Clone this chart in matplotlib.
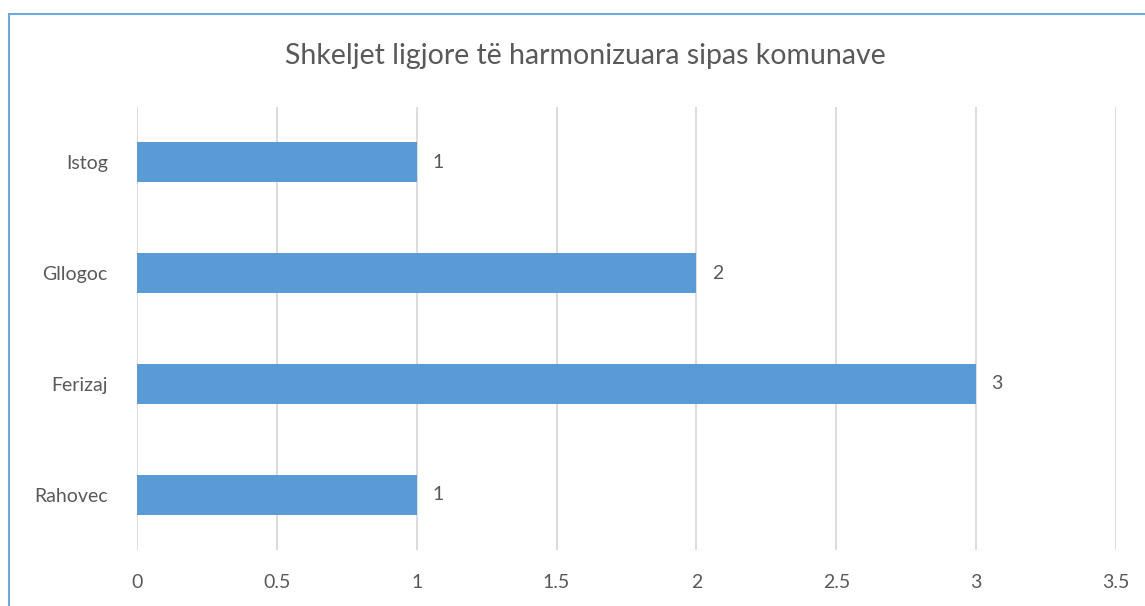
import matplotlib.pyplot as plt
from matplotlib.patches import Rectangle

categories = ['Rahovec', 'Ferizaj', 'Gllogoc', 'Istog']
values = [1, 3, 2, 1]
xticks = [0, 0.5, 1, 1.5, 2, 2.5, 3, 3.5]
xticklabels = ['0', '0.5', '1', '1.5', '2', '2.5', '3', '3.5']
title = 'Shkeljet ligjore të harmonizuara sipas komunave'

plt.rcParams['font.family'] = ['Lato', 'DejaVu Sans']
text_color = '#595959'
bar_color = '#5B9BD5'

fig = plt.figure(figsize=(11.45, 6.06), dpi=100)
ax = fig.add_axes([137 / 1145, 1 - 550 / 606, (1116 - 137) / 1145, (550 - 107) / 606])

ypos = range(len(categories))
bars = ax.barh(ypos, values, height=0.36, color=bar_color, zorder=3)
for b, v in zip(bars, values):
    ax.text(b.get_width() + 0.055, b.get_y() + b.get_height() / 2, str(v),
            va='center', ha='left', fontsize=14, color=text_color)

ax.set_xlim(0, 3.5)
ax.set_ylim(-0.5, 3.5)
ax.set_xticks(xticks)
ax.set_xticklabels(xticklabels, fontsize=14, color=text_color)
ax.set_yticks(list(ypos))
ax.set_yticklabels(categories, fontsize=14, color=text_color)
ax.tick_params(length=0, pad=17, axis='x')
ax.tick_params(length=0, pad=21, axis='y')
ax.grid(axis='x', color='#D9D9D9', linewidth=1.3, zorder=0)
for s in ax.spines.values():
    s.set_visible(False)

fig.text(585 / 1145, 1 - 56 / 606, title, ha='center', va='center',
         fontsize=20.5, color=text_color)

# chart border (cut off at right and bottom)
fig.patches.append(Rectangle((8.5 / 1145, -0.1), 1.2, 1 - 14 / 606 + 0.1,
                             transform=fig.transFigure, fill=False,
                             edgecolor='#6FA8DC', linewidth=1.5))

fig.savefig('out.png', dpi=100)
